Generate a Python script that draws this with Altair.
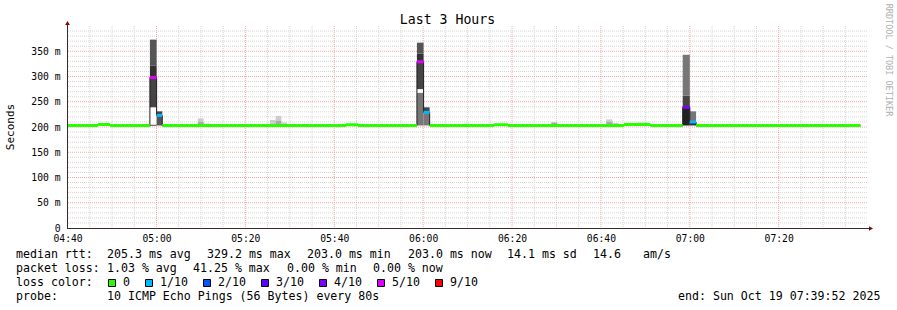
import altair as alt
import pandas as pd

# ---------------- data ----------------
# time: minutes after 04:40 ; window 04:39:52 .. 07:39:52
T_START = -0.133
T_END = 179.867
T_LAST = 178.4  # last sample drawn

# median rtt steps
med_t0 = [-0.133, 6.8, 9.5, 18.52, 20.03, 21.3, 62.6, 65.3, 78.6, 80.1, 81.46,
          95.9, 99.1, 125.2, 131.1, 138.4, 140.0, 141.4]
med_t1 = med_t0[1:] + [T_LAST]
med_ms = [203.0, 205.0, 203.0, 298.0, 223.0, 203.0, 204.5, 203.0, 329.2, 229.0, 203.0,
          204.5, 203.0, 205.0, 203.0, 239.0, 210.0, 203.0]
med_loss = ["0", "0", "0", "5/10", "1/10", "0", "0", "0", "5/10", "1/10", "0",
            "0", "0", "0", "0", "4/10", "1/10", "0"]

# smoke bands (ping spread)
smoke_t0 = [18.52, 18.52, 18.52, 18.52, 18.52, 20.03, 20.03,
            78.6, 78.6, 78.6, 78.6, 78.6, 80.1, 80.1,
            138.4, 138.4, 138.4, 140.0, 140.0,
            29.3, 29.3, 30.6, 45.5, 46.8, 46.8, 48.1, 89.2, 108.8, 121.2, 121.2, 122.6, 128.2]
smoke_t1 = [20.03, 20.03, 20.03, 20.03, 20.03, 21.3, 21.3,
            80.1, 80.1, 80.1, 80.1, 80.1, 81.46, 81.46,
            140.0, 140.0, 140.0, 141.4, 141.4,
            30.6, 30.6, 32.0, 46.8, 48.1, 48.1, 49.4, 90.5, 110.2, 122.6, 122.6, 124.0, 130.9]
smoke_lo = [202, 205, 239, 298, 322, 203, 222,
            203, 268, 275, 330, 345, 203, 229,
            203, 239, 262, 203, 210,
            203, 203, 203, 203, 203, 203, 203, 203, 203, 203, 203, 203, 203]
smoke_hi = [205, 239, 298, 322, 373, 222, 231,
            268, 275, 330, 345, 367, 229, 239,
            239, 262, 343, 210, 231,
            217, 210, 207, 214, 222, 212, 209, 207, 209, 215, 210, 208, 209]
smoke_shade = ["m", "white", "d2", "d1", "d3", "d3", "d2",
               "m", "white", "d2", "d1", "d3", "m", "d2",
               "d0", "d2", "m", "d1", "m",
               "l1", "l2", "l1", "l1", "l1", "l2", "l1", "l1", "l2", "l1", "l2", "l1", "l1"]

loss_levels = ["0", "1/10", "2/10", "3/10", "4/10", "5/10", "9/10"]

y_labels = [0, 50, 100, 150, 200, 250, 300, 350]
x_labels = [0, 20, 40, 60, 80, 100, 120, 140, 160]

stats_line1 = [("median rtt:", 16), ("205.3 ms avg", 107), ("329.2 ms max", 207),
               ("203.0 ms min", 307), ("203.0 ms now", 408), ("14.1 ms sd", 507),
               ("14.6", 593), ("am/s", 643)]
stats_line2 = [("packet loss:", 16), ("1.03 % avg", 107), ("41.25 % max", 193),
               ("0.00 % min", 287), ("0.00 % now", 373)]
stats_line4 = [("probe:", 16), ("10 ICMP Echo Pings (56 Bytes) every 80s", 107),
               ("end: Sun Oct 19 07:39:52 2025", 678)]

# ---------------- styles ----------------
LOSS_COLORS = ["#26ff00", "#00b8ff", "#0059ff", "#5e00ff", "#7e00ff", "#dd00ff", "#ff0000"]
SHADES = {"white": "#ffffff", "d0": "#222222", "d1": "#333333", "d2": "#454545",
          "d3": "#555555", "m": "#777777", "l2": "#aaaaaa", "l1": "#cccccc"}
MONO = "DejaVu Sans Mono"
L, T = 67, 26  # plot origin in page pixels
W, H = 800, 202

med = pd.DataFrame({"t0": med_t0, "t1": med_t1, "ms": med_ms, "loss": med_loss})
step = pd.DataFrame({"t": med_t0 + [T_LAST], "ms": med_ms + [med_ms[-1]]})
smoke = pd.DataFrame({"t0": smoke_t0, "t1": smoke_t1, "lo": smoke_lo, "hi": smoke_hi,
                      "shade": smoke_shade})

xs = alt.Scale(domain=[T_START, T_END], nice=False, zero=False)
ys = alt.Scale(domain=[0, 400], nice=False)

x_axis = alt.Axis(values=x_labels, title=None, grid=False, ticks=False, domain=False,
                  labelFont=MONO, labelFontSize=9.7, labelColor="black", labelPadding=5,
                  labelFlush=False, labelOverlap=False,
                  labelExpr="(floor((280+datum.value)/60) < 10 ? '0' : '') + floor((280+datum.value)/60) + ':' + (((280+datum.value)%60) < 10 ? '0' : '') + ((280+datum.value)%60)")
y_axis = alt.Axis(values=y_labels, title=None, grid=False, ticks=False, domain=False,
                  labelFont=MONO, labelFontSize=9.7, labelColor="black", labelPadding=7,
                  labelFlush=False, labelOverlap=False,
                  labelExpr="datum.value == 0 ? '0' : datum.value + ' m'")


def X(f):
    return alt.X(f, type="quantitative", scale=xs, axis=x_axis)


def Y(f):
    return alt.Y(f, type="quantitative", scale=ys, axis=y_axis)


one = pd.DataFrame({"k": [0]})

# grid
ygrid_minor = pd.DataFrame({"v": [v for v in range(10, 400, 10) if v % 50]})
ygrid_major = pd.DataFrame({"v": list(range(50, 400, 50))})
xgrid_minor = pd.DataFrame({"v": [v for v in range(5, 180, 5) if v % 20]})
xgrid_major = pd.DataFrame({"v": list(range(20, 180, 20))})

layers = []

GRID_MINOR = "#d4d4d4"
GRID_MAJOR = "#f3a6a6"
layers.append(alt.Chart(ygrid_minor).mark_rule(color=GRID_MINOR, strokeDash=[1, 1], strokeWidth=1)
              .encode(y=Y("v")))
layers.append(alt.Chart(xgrid_minor).mark_rule(color=GRID_MINOR, strokeDash=[1, 1], strokeWidth=1)
              .encode(x=X("v")))
layers.append(alt.Chart(ygrid_major).mark_rule(color=GRID_MAJOR, strokeDash=[1, 1], strokeWidth=1)
              .encode(y=Y("v")))
layers.append(alt.Chart(xgrid_major).mark_rule(color=GRID_MAJOR, strokeDash=[1, 1], strokeWidth=1)
              .encode(x=X("v")))

smoke_layer = alt.Chart(smoke).mark_rect().encode(
    x=X("t0"), x2="t1", y=Y("lo"), y2="hi",
    fill=alt.Fill("shade:N", scale=alt.Scale(domain=list(SHADES.keys()),
                                             range=list(SHADES.values())), legend=None))
layers.append(smoke_layer)

# median step outline
layers.append(alt.Chart(step).mark_line(interpolate="step-after", color="#202020", strokeWidth=1)
              .encode(x=X("t"), y=Y("ms")))
# median coloured by loss
layers.append(alt.Chart(med).mark_rule(strokeWidth=3).encode(
    x=X("t0"), x2="t1", y=Y("ms"),
    stroke=alt.Stroke("loss:N", scale=alt.Scale(domain=loss_levels, range=LOSS_COLORS),
                      legend=None)))

# axes lines and arrows
AX = "#3a2a2a"
ARROW = "#8b0000"
layers.append(alt.Chart(one).mark_rule(color=AX, strokeWidth=1).encode(
    x=alt.value(0.5), y=alt.value(H), y2=alt.value(-4)))
layers.append(alt.Chart(one).mark_rule(color=AX, strokeWidth=1).encode(
    x=alt.value(0), x2=alt.value(W + 5), y=alt.value(H + 0.5)))
layers.append(alt.Chart(one).mark_point(shape="triangle-up", filled=True, size=22, color=ARROW,
                                        opacity=1).encode(x=alt.value(0.5), y=alt.value(-3)))
layers.append(alt.Chart(one).mark_point(shape="triangle-right", filled=True, size=22, color=ARROW,
                                        opacity=1).encode(x=alt.value(W + 4), y=alt.value(H + 0.5)))


def txt(s, x, y, size=11.6, align="left", angle=0, color="black", baseline="alphabetic"):
    return alt.Chart(one).mark_text(text=s, align=align, baseline=baseline, font=MONO,
                                    fontSize=size, angle=angle, color=color).encode(
        x=alt.value(x - L), y=alt.value(y - T))


layers.append(txt("Last 3 Hours", 447.5, 24, size=13.2, align="center"))
layers.append(txt("Seconds", 11, 127, size=11, align="center", angle=270, baseline="middle"))
layers.append(txt("RRDTOOL / TOBI OETIKER", 889, 60, size=8.5, align="center", angle=90,
                  color="#b0b0b0", baseline="middle"))

for s, x in stats_line1:
    layers.append(txt(s, x, 258))
for s, x in stats_line2:
    layers.append(txt(s, x, 272))
for s, x in stats_line4:
    layers.append(txt(s, x, 300))

# loss colour legend
layers.append(txt("loss color:", 16, 286))
sq = 108.0
for lab, col in zip(loss_levels, LOSS_COLORS):
    layers.append(alt.Chart(one).mark_rect(fill=col, stroke="black", strokeWidth=1).encode(
        x=alt.value(sq - L + 0.5), x2=alt.value(sq - L + 7.5),
        y=alt.value(279.5 - T), y2=alt.value(286.5 - T)))
    lx = sq + 15
    layers.append(txt(lab, lx, 286))
    sq = lx + len(lab) * 7.0 + 15

chart = alt.layer(*layers).resolve_scale(color="independent").properties(
    width=W, height=H,
    padding={"left": L, "top": T, "right": 897 - L - W, "bottom": 310 - T - H},
    autosize=alt.AutoSizeParams(type="none"),
    background="white",
).configure_view(stroke=None)

chart.save("out.html", embed_options={"renderer": "svg", "actions": False})
